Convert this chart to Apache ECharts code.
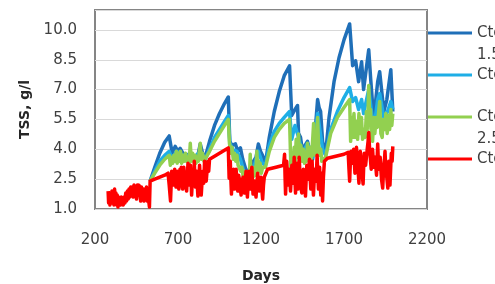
<!DOCTYPE html>
<html>
<head>
<meta charset="utf-8">
<script src="https://cdn.jsdelivr.net/npm/echarts@6/dist/echarts.min.js"></script>
<style>
  html, body { margin: 0; padding: 0; background: #fff; }
  #tssBox { width: 495px; height: 284px; }
</style>
</head>
<body>
<div id="tssBox"></div>
<script>
  // series names (legend text is cut off by the picture edge)
  const seriesNames = ['Ctot, Cin = 1.5 g/l', 'Ctot, Cin = 2 g/l', 'Ctot, Cin = 2.5 g/l', 'Ctot, Cin = 3 g/l']
  const legendLabels = ['\nCtot, Cin =\n1.5 g/l', 'Ctot, Cin = 2 g/l', '\nCtot, Cin =\n2.5 g/l', 'Ctot, Cin = 3 g/l']
  const colors = ['#1F6FB8', '#1EAEE6', '#92D050', '#FF0000']

  const xTicks = [200, 700, 1200, 1700, 2200]
  const yTicks = [1.0, 2.5, 4.0, 5.5, 7.0, 8.5, 10.0]

  // [day, TSS g/l]
  const darkBlue = [
    [532,2.4],[560,3.1],[590,3.8],[620,4.35],[647,4.67],[665,3.8],[683,4.15],[700,3.9],[713,4.05],[730,3.8],
    [750,3.7],[775,3.8],[800,3.6],[820,3.7],[834,4.27],[848,3.8],[864,3.6],[890,4.4],[920,5.2],[950,5.8],
    [980,6.3],[1003,6.63],[1012,4.4],[1025,4.2],[1046,4.27],[1060,3.9],[1076,4.07],[1090,3.5],[1106,3.06],
    [1124,2.76],[1140,3.1],[1155,3.4],[1170,3.6],[1184,4.27],[1197,3.9],[1209,3.7],[1227,3.3],[1250,4.6],
    [1280,5.9],[1310,6.9],[1340,7.7],[1372,8.2],[1385,5.7],[1395,5.6],[1405,6.0],[1420,6.2],[1426,4.8],
    [1438,4.6],[1450,3.9],[1465,4.2],[1480,4.4],[1495,3.9],[1511,3.5],[1525,4.8],[1541,6.5],[1550,6.1],
    [1559,5.9],[1571,4.4],[1589,3.75],[1610,5.6],[1640,7.4],[1670,8.6],[1700,9.5],[1734,10.3],[1752,8.2],
    [1770,8.45],[1788,7.4],[1806,8.4],[1818,7.0],[1849,9.0],[1861,7.5],[1879,5.5],[1903,7.4],[1915,7.9],
    [1940,5.9],[1958,6.5],[1982,8.0],[1994,5.9]
  ]
  const lightBlue = [
    [532,2.4],[560,2.9],[590,3.4],[620,3.7],[647,3.9],[665,3.5],[690,3.9],[715,3.8],[745,3.6],[775,3.8],
    [800,3.6],[834,3.9],[864,3.5],[890,4.0],[920,4.6],[950,5.0],[980,5.4],[1003,5.7],[1012,4.3],[1030,4.0],
    [1055,3.9],[1076,3.5],[1100,2.8],[1124,2.6],[1140,3.0],[1160,3.2],[1184,3.9],[1209,3.3],[1227,3.2],
    [1250,4.2],[1280,4.9],[1310,5.3],[1340,5.6],[1372,5.9],[1385,4.5],[1405,5.2],[1426,4.6],[1450,3.8],
    [1480,4.3],[1511,3.6],[1541,5.8],[1571,4.0],[1589,3.7],[1620,5.0],[1660,5.9],[1700,6.6],[1734,7.1],
    [1752,6.4],[1770,6.6],[1788,6.0],[1806,6.5],[1818,5.8],[1849,7.0],[1879,5.0],[1903,6.5],[1915,6.8],
    [1940,5.6],[1958,5.8],[1982,6.4],[1994,6.0]
  ]
  const green = [
    [532,2.4],[560,2.8],[590,3.2],[620,3.5],[647,3.7],[654,3.2],[660,3.6],[668,3.3],[675,3.7],[683,3.4],
    [690,3.9],[695,3.3],[702,3.8],[708,3.4],[715,3.9],[722,3.3],[730,3.7],[737,3.4],[745,3.8],[752,3.4],
    [760,3.6],[767,3.3],[774,4.3],[780,3.4],[788,3.8],[795,3.4],[803,3.7],[809,3.3],[815,3.6],[822,3.4],
    [834,4.3],[840,3.5],[848,3.8],[856,3.4],[864,3.5],[890,3.9],[920,4.4],[950,4.8],[980,5.2],[1003,5.5],
    [1010,4.3],[1018,3.8],[1025,4.1],[1033,3.5],[1040,3.8],[1048,3.4],[1055,3.7],[1062,3.2],[1070,3.3],
    [1078,2.9],[1085,3.1],[1093,2.6],[1100,2.9],[1108,2.5],[1115,2.6],[1120,2.4],[1125,2.9],[1130,2.5],
    [1135,3.75],[1140,2.6],[1147,3.0],[1153,2.6],[1160,3.1],[1168,2.7],[1175,3.9],[1180,3.0],[1185,3.4],
    [1190,2.9],[1195,3.3],[1202,2.8],[1210,3.1],[1227,3.1],[1250,3.9],[1280,4.6],[1310,5.0],[1340,5.3],
    [1372,5.5],[1380,3.1],[1387,3.8],[1393,3.2],[1400,4.1],[1406,3.4],[1412,4.5],[1419,3.6],[1426,4.77],
    [1432,3.5],[1440,4.2],[1447,3.4],[1455,4.0],[1462,3.3],[1468,3.8],[1474,3.4],[1480,4.3],[1487,3.5],
    [1495,4.1],[1501,3.4],[1508,4.0],[1517,5.3],[1523,3.7],[1530,4.6],[1536,3.8],[1541,5.6],[1547,4.2],
    [1553,3.7],[1560,4.0],[1566,3.4],[1571,3.5],[1589,3.6],[1620,4.8],[1660,5.6],[1700,6.1],[1734,6.5],
    [1740,4.4],[1747,5.6],[1753,4.6],[1760,5.8],[1766,4.6],[1775,5.4],[1782,4.5],[1790,5.8],[1797,4.8],
    [1805,5.6],[1812,4.5],[1820,5.0],[1828,4.6],[1835,5.9],[1842,5.0],[1849,7.2],[1855,5.5],[1860,6.0],
    [1866,4.6],[1872,4.4],[1879,5.6],[1886,4.8],[1893,5.6],[1900,5.1],[1908,5.8],[1915,6.4],[1922,4.8],
    [1930,4.6],[1937,5.5],[1945,5.0],[1952,5.8],[1960,4.8],[1968,5.7],[1975,5.0],[1982,6.0],[1988,5.2],
    [1994,5.8]
  ]
  const red = [
    [279,1.9],[282,1.3],[286,1.7],[290,1.2],[294,1.8],[298,1.3],[302,1.9],[306,1.5],[310,1.8],[314,1.2],
    [318,2.0],[322,1.4],[326,1.8],[330,1.2],[334,1.7],[338,1.1],[342,1.6],[346,1.3],[350,1.5],[354,1.2],
    [358,1.6],[362,1.3],[366,1.5],[370,1.2],[375,1.6],[380,1.3],[385,1.8],[390,1.4],[395,1.9],[400,1.5],
    [405,2.0],[410,1.6],[415,2.1],[420,1.7],[425,2.1],[430,1.6],[435,2.2],[440,1.7],[445,2.1],[450,1.5],
    [455,2.2],[460,1.7],[465,2.2],[470,1.8],[475,1.4],[480,2.1],[485,1.6],[490,2.0],[495,1.4],[500,2.0],
    [505,1.5],[510,2.1],[515,1.4],[520,2.0],[525,1.3],[528,1.1],[532,2.4],[560,2.5],[590,2.6],[620,2.7],
    [640,2.8],[647,2.2],[655,1.4],[662,2.9],[666,2.3],[670,2.8],[675,2.2],[680,3.0],[684,2.5],[688,2.1],
    [695,2.9],[700,2.4],[705,2.0],[712,3.0],[716,2.6],[720,3.1],[724,2.3],[728,2.0],[735,3.1],[740,2.6],
    [745,2.2],[752,1.9],[756,2.6],[760,3.3],[764,2.7],[768,2.2],[772,2.9],[775,3.2],[779,2.4],[782,1.7],
    [786,2.4],[790,2.8],[794,2.2],[798,3.4],[802,2.6],[805,2.1],[809,2.7],[812,2.9],[816,2.2],[820,1.65],
    [825,2.5],[830,3.2],[835,2.4],[840,1.7],[845,2.4],[850,2.9],[855,2.3],[860,3.4],[865,2.8],[870,2.4],
    [875,2.9],[880,3.4],[885,2.9],[890,3.5],[920,3.65],[950,3.8],[980,3.95],[1003,4.07],[1008,2.55],
    [1012,3.2],[1015,3.4],[1019,2.4],[1022,1.75],[1026,2.6],[1030,2.4],[1035,3.0],[1040,2.0],[1045,2.6],
    [1050,3.0],[1055,2.3],[1060,1.9],[1065,2.7],[1070,2.5],[1075,2.0],[1080,1.7],[1086,2.4],[1092,2.6],
    [1096,2.1],[1100,1.8],[1105,2.4],[1110,2.9],[1114,2.2],[1118,1.6],[1123,2.3],[1128,2.9],[1132,2.4],
    [1135,2.0],[1140,2.6],[1145,3.1],[1148,2.4],[1152,1.75],[1157,2.2],[1162,2.4],[1166,1.9],[1170,1.6],
    [1175,2.3],[1180,2.8],[1185,2.3],[1190,1.9],[1195,2.4],[1200,2.6],[1205,2.0],[1210,1.5],[1215,2.2],
    [1220,2.6],[1240,3.0],[1290,3.1],[1336,3.2],[1342,3.75],[1345,2.6],[1348,1.75],[1352,2.6],[1355,3.4],
    [1359,2.8],[1362,2.2],[1366,2.7],[1370,3.0],[1374,2.4],[1378,1.9],[1382,2.6],[1386,3.2],[1390,2.7],
    [1393,2.3],[1397,2.9],[1400,3.6],[1404,2.6],[1408,1.8],[1412,2.5],[1415,3.3],[1419,2.5],[1422,2.0],
    [1426,2.8],[1430,3.6],[1434,2.9],[1438,2.4],[1442,2.0],[1446,1.8],[1450,2.5],[1455,3.0],[1459,2.6],
    [1462,2.2],[1465,1.9],[1468,1.65],[1472,2.5],[1476,3.2],[1480,2.8],[1484,2.5],[1488,3.0],[1492,3.5],
    [1496,2.6],[1500,2.0],[1504,2.7],[1508,3.4],[1512,2.4],[1516,1.7],[1520,2.4],[1524,3.0],[1528,2.7],
    [1531,2.4],[1535,3.0],[1538,3.7],[1542,2.8],[1546,2.0],[1550,2.6],[1553,3.1],[1557,2.3],[1560,1.7],
    [1563,2.3],[1566,2.8],[1569,2.0],[1571,1.4],[1576,2.6],[1582,3.4],[1600,3.55],[1650,3.65],[1700,3.75],
    [1725,3.85],[1730,3.0],[1734,2.4],[1738,3.3],[1742,3.9],[1746,3.5],[1750,3.3],[1754,3.7],[1758,4.0],
    [1762,3.4],[1766,2.8],[1770,3.5],[1775,4.1],[1778,3.8],[1782,3.5],[1786,2.8],[1790,2.3],[1794,3.2],
    [1798,3.9],[1802,3.5],[1806,3.2],[1810,2.7],[1815,2.26],[1818,3.0],[1822,3.8],[1826,3.4],[1830,3.2],
    [1835,3.6],[1840,4.0],[1845,4.4],[1849,4.85],[1853,4.2],[1856,3.9],[1860,3.4],[1864,3.0],[1868,3.6],
    [1872,4.0],[1876,3.5],[1880,3.1],[1884,3.4],[1888,3.6],[1892,3.1],[1896,2.7],[1900,3.6],[1903,4.27],
    [1906,3.6],[1910,3.0],[1914,3.3],[1918,3.6],[1922,3.0],[1926,2.5],[1933,2.05],[1937,2.7],[1940,3.2],
    [1944,3.5],[1947,3.9],[1951,3.2],[1955,2.8],[1960,2.4],[1964,2.05],[1967,2.8],[1970,3.4],[1974,2.8],
    [1977,2.2],[1981,3.0],[1985,3.8],[1990,3.4],[1994,4.15]
  ]
  const seriesData = [darkBlue, lightBlue, green, red]

  const fontFamily = 'DejaVu Sans'
  const chart = echarts.init(document.getElementById('tssBox'), null, { renderer: 'canvas' })

  const option = {
    animation: false,
    color: colors,
    textStyle: { fontFamily: fontFamily },
    grid: {
      left: 95, right: 68, top: 10, bottom: 75,
      outerBoundsMode: 'none',
      show: true, borderColor: '#858585', borderWidth: 2, backgroundColor: '#fff'
    },
    legend: {
      orient: 'vertical',
      left: 428, top: 0,
      padding: 0,
      itemGap: -2,
      itemWidth: 44, itemHeight: 3,
      icon: 'rect',
      data: seriesNames,
      formatter: function (name) {
        return legendLabels[seriesNames.indexOf(name)]
      },
      textStyle: { fontFamily: fontFamily, fontSize: 15, color: '#404040', lineHeight: 22 }
    },
    xAxis: {
      type: 'value',
      min: xTicks[0], max: xTicks[xTicks.length - 1], interval: 500,
      name: 'Days', nameLocation: 'middle', nameGap: 60,
      nameTextStyle: { fontFamily: fontFamily, fontSize: 14, fontWeight: 'bold', color: '#262626' },
      axisLine: { show: false },
      axisTick: { show: false },
      splitLine: { show: false },
      axisLabel: {
        margin: 24, fontSize: 15, color: '#404040', fontFamily: fontFamily,
        formatter: function (v) { return String(v) }
      }
    },
    yAxis: {
      type: 'value',
      min: yTicks[0], max: 11, interval: 1.5,
      name: 'TSS, g/l', nameLocation: 'middle', nameGap: 63,
      nameTextStyle: { fontFamily: fontFamily, fontSize: 14, fontWeight: 'bold', color: '#262626' },
      axisLine: { show: false },
      axisTick: { show: false },
      splitLine: { lineStyle: { color: '#d9d9d9', width: 1 } },
      axisLabel: {
        margin: 18, fontSize: 15, color: '#404040', fontFamily: fontFamily,
        showMaxLabel: false,
        formatter: function (v) { return v.toFixed(1) }
      }
    },
    series: seriesNames.map(function (name, i) {
      return {
        name: name,
        type: 'line',
        data: seriesData[i],
        showSymbol: false,
        symbol: 'none',
        lineStyle: { width: 3.5, color: colors[i], join: 'round' },
        itemStyle: { color: colors[i] }
      }
    })
  }
  chart.setOption(option)
</script>
</body>
</html>
